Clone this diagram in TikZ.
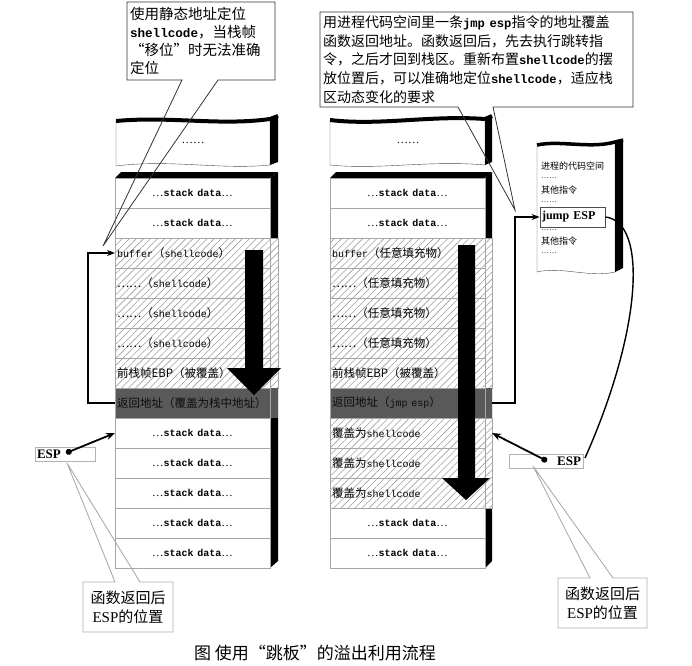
\documentclass[tikz,border=0pt]{standalone}
\usepackage{fontspec}
\setmainfont{Noto Sans CJK SC}
\setmonofont[Scale=0.87]{Liberation Mono}
\newfontfamily\latfont{Liberation Serif}
\usetikzlibrary{positioning,patterns.meta,arrows.meta}

\newcommand{\rowfont}{\fontsize{11.5}{13}\selectfont}
\newcommand{\stk}{{\latfont …}\texttt{\bfseries stack data}{\latfont …}}

\tikzset{
  row/.style={minimum width=155pt,minimum height=30pt,inner sep=2pt,outer sep=0pt,
    draw=gray!70,line width=0.6pt,font=\rowfont,text width=151pt},
  stackrow/.style={row,fill=white,align=center},
  fillrow/.style={row,align=left,pattern={Lines[angle=45,distance=5pt,line width=0.6pt]},pattern color=gray!75},
  retrow/.style={row,align=left,fill=black!65,text=black!95},
  sidehatch/.style={draw=gray!70,line width=0.5pt,pattern={Lines[angle=45,distance=5pt,line width=0.6pt]},pattern color=gray!75},
  note/.style={inner sep=3pt,outer sep=0pt,align=left,font=\fontsize{14.5}{18}\selectfont},
  callout/.style={draw=gray!40!black,line width=0.8pt},
  tag/.style={inner sep=2pt,outer sep=0pt,align=center,font=\fontsize{15}{19}\selectfont},
  gcallout/.style={draw=gray!65,line width=0.9pt},
  conn/.style={-{Stealth[length=8pt,width=6pt]},line width=1.2pt},
  esparrow/.style={{Circle[length=6pt]}-{Stealth[length=9pt,width=7pt]},line width=1.8pt},
  espbox/.style={draw=gray!60,line width=0.8pt,minimum height=14pt,inner sep=1pt,outer sep=0pt,
    font=\latfont\bfseries\fontsize{13}{14}\selectfont},
  code/.style={inner sep=0pt,anchor=west,font=\fontsize{9}{10}\selectfont},
  dots/.style={inner sep=0pt,anchor=west,font=\latfont\fontsize{8}{8}\selectfont},
}

\begin{document}
\begin{tikzpicture}[x=1pt,y=-1pt]
  \useasboundingbox (0,0) rectangle (692,665);

  % left stack: torn top block
  \path[fill=white,draw=gray!60!black] (116,122) .. controls (170,117) and (220,127) .. (270,120)
    -- (270,165) .. controls (220,170) and (170,159) .. (116,166) -- cycle;
  \fill[black] (270,120) -- (278,115) -- (278,162) -- (270,165) -- cycle;
  \draw[line width=4pt] (116,121) .. controls (170,116) and (220,126) .. (270,119) -- (278,116);
  \node[font=\latfont\fontsize{11.5}{13}\selectfont] (topL) at (193,143) {……};

  % left stack: shadow
  \fill[black] (115,178) -- (121,172) -- (278,172) -- (270,178) -- cycle;
  \fill[black] (270,178) -- (278,172) -- (278,561) -- (270,568) -- cycle;
  \fill[white] (270,238) rectangle (278,388);
  \path[sidehatch] (270,238) rectangle (278,388);
  \fill[black!65] (270,388) rectangle (278,418);

  \node[stackrow] (L1) at (192.5,193) {\stk};
  \node[stackrow,below=0pt of L1] (L2) {\stk};
  \node[fillrow,below=0pt of L2] (L3) {\texttt{buffer}（\texttt{shellcode}）};
  \node[fillrow,below=0pt of L3] (L4) {……（\texttt{shellcode}）};
  \node[fillrow,below=0pt of L4] (L5) {……（\texttt{shellcode}）};
  \node[fillrow,below=0pt of L5] (L6) {……（\texttt{shellcode}）};
  \node[fillrow,below=0pt of L6] (L7) {前栈帧EBP（被覆盖）};
  \node[retrow,below=0pt of L7] (L8) {返回地址（覆盖为栈中地址）};
  \node[stackrow,below=0pt of L8] (L9) {\stk};
  \node[stackrow,below=0pt of L9] (L10) {\stk};
  \node[stackrow,below=0pt of L10] (L11) {\stk};
  \node[stackrow,below=0pt of L11] (L12) {\stk};
  \node[stackrow,below=0pt of L12] (L13) {\stk};

  \fill[black] (245,250) -- (263,250) -- (263,368) -- (281,368) -- (254,395) -- (227,368) -- (245,368) -- cycle;

  % right stack: torn top block
  \path[fill=white,draw=gray!60!black] (330,121) .. controls (380,127) and (430,116) .. (485,120)
    -- (485,165) .. controls (430,160) and (380,170) .. (330,165) -- cycle;
  \fill[black] (485,120) -- (492,116) -- (492,162) -- (485,165) -- cycle;
  \draw[line width=4pt] (330,120) .. controls (380,126) and (430,115) .. (485,119) -- (492,116);
  \node[font=\latfont\fontsize{11.5}{13}\selectfont] (topR) at (408,143) {……};

  % right stack: shadow
  \fill[black] (330,178) -- (336,172) -- (492,172) -- (485,178) -- cycle;
  \fill[black] (485,178) -- (492,172) -- (492,561) -- (485,568) -- cycle;
  \fill[white] (485,238) rectangle (492,508);
  \path[sidehatch] (485,238) rectangle (492,388);
  \path[sidehatch] (485,418) rectangle (492,508);
  \fill[black!65] (485,388) rectangle (492,418);

  \node[stackrow] (R1) at (407.5,193) {\stk};
  \node[stackrow,below=0pt of R1] (R2) {\stk};
  \node[fillrow,below=0pt of R2] (R3) {\texttt{buffer}（任意填充物）};
  \node[fillrow,below=0pt of R3] (R4) {……（任意填充物）};
  \node[fillrow,below=0pt of R4] (R5) {……（任意填充物）};
  \node[fillrow,below=0pt of R5] (R6) {……（任意填充物）};
  \node[fillrow,below=0pt of R6] (R7) {前栈帧EBP（被覆盖）};
  \node[retrow,below=0pt of R7] (R8) {返回地址（\texttt{jmp esp}）};
  \node[fillrow,below=0pt of R8] (R9) {覆盖为\texttt{shellcode}};
  \node[fillrow,below=0pt of R9] (R10) {覆盖为\texttt{shellcode}};
  \node[fillrow,below=0pt of R10] (R11) {覆盖为\texttt{shellcode}};
  \node[stackrow,below=0pt of R11] (R12) {\stk};
  \node[stackrow,below=0pt of R12] (R13) {\stk};

  \fill[black] (458,245) -- (475,245) -- (475,478) -- (490,478) -- (466,500) -- (442,478) -- (458,478) -- cycle;

  % code space of the process
  \path[fill=white,draw=gray!60!black] (537,146) .. controls (560,141) and (590,150) .. (615,143)
    -- (615,272) .. controls (590,278) and (560,266) .. (537,272) -- cycle;
  \fill[black] (615,143) -- (623,139) -- (623,268) -- (615,272) -- cycle;
  \draw[line width=3.5pt] (537,145) .. controls (560,140) and (590,149) .. (615,142) -- (623,140);
  \node[code] (cs1) at (541,166) {进程的代码空间};
  \node[dots] (cs2) at (541,178) {……};
  \node[code] (cs3) at (541,190) {其他指令};
  \node[dots] (cs4) at (541,202) {……};
  \node[draw=gray!60!black,line width=0.8pt,minimum width=65pt,minimum height=20pt,inner sep=2pt,
    text width=61pt,align=left,font=\latfont\bfseries\fontsize{12}{14}\selectfont] (jmp) at (572.5,217) {jump ESP};
  \node[dots] (cs5) at (541,230) {……};
  \node[code] (cs6) at (541,241) {其他指令};
  \node[dots] (cs7) at (541,253) {……};

  % connectors
  \draw[conn] (L8.west) -- ++(-27,0) |- (L3.west);
  \draw[conn] ([xshift=7pt]R8.east) -- ++(23,0) |- (jmp.west);
  \draw[line width=1.4pt] (jmp.east) .. controls (648,222) and (642,330) .. (585,458);

  % ESP markers
  \node[espbox,minimum width=60pt,text width=56pt,align=left] (espL) at (65,454) {ESP};
  \coordinate (dotL) at (66,453);
  \draw[esparrow] (dotL) -- (L9.west);
  \node[espbox,minimum width=74pt,text width=70pt,align=right] (espR) at (546,461) {ESP};
  \coordinate (dotR) at (547,461);
  \draw[esparrow] (dotR) -- ([xshift=7pt]R9.east);

  % callouts
  \coordinate (tipL) at (103,246);
  \node[note,minimum width=148pt,minimum height=78pt,text width=142pt,anchor=north west] (noteL) at (127,2)
    {使用静态地址定位\\\texttt{\bfseries shellcode}，当栈帧\\“移位”时无法准确\\定位};
  \draw[callout] (noteL.north west) -- (noteL.north east) -- (noteL.south east)
    -- ([xshift=-57pt]noteL.south east) -- (tipL) -- ([xshift=-93pt]noteL.south east)
    -- (noteL.south west) -- cycle;

  \coordinate (tipR) at (515,210);
  \node[note,minimum width=313pt,minimum height=95pt,text width=307pt,anchor=north west,
    font=\fontsize{14}{18.6}\selectfont] (noteR) at (320,12)
    {用进程代码空间里一条\texttt{\bfseries jmp esp}指令的地址覆盖\\函数返回地址。函数返回后，先去执行跳转指\\令，之后才回到栈区。重新布置\texttt{\bfseries shellcode}的摆\\放位置后，可以准确地定位\texttt{\bfseries shellcode}，适应栈\\区动态变化的要求};
  \draw[callout] (noteR.north west) -- (noteR.north east) -- (noteR.south east)
    -- ([xshift=-140pt]noteR.south east) -- (tipR) -- ([xshift=-175pt]noteR.south east)
    -- (noteR.south west) -- cycle;

  \coordinate (tipLb) at (67,463);
  \node[tag,minimum width=90pt,minimum height=50pt] (backL) at (128,607) {函数返回后\\{\latfont ESP}的位置};
  \draw[gcallout] (backL.north west) -- ([xshift=32pt]backL.north west) -- (tipLb)
    -- ([xshift=57pt]backL.north west) -- (backL.north east) -- (backL.south east)
    -- (backL.south west) -- cycle;

  \coordinate (tipRb) at (533,466);
  \node[tag,minimum width=89pt,minimum height=50pt] (backR) at (602.5,603) {函数返回后\\{\latfont ESP}的位置};
  \draw[gcallout] (backR.north west) -- ([xshift=32pt]backR.north west) -- (tipRb)
    -- ([xshift=55pt]backR.north west) -- (backR.north east) -- (backR.south east)
    -- (backR.south west) -- cycle;

  \node[font=\fontsize{17}{20}\selectfont] (cap) at (315,653) {图 使用“跳板”的溢出利用流程};
\end{tikzpicture}
\end{document}
